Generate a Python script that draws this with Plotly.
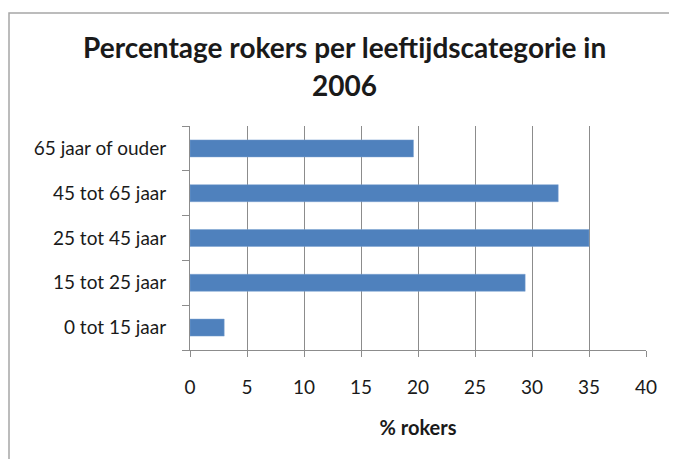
import plotly.graph_objects as go

categories = ["0 tot 15 jaar", "15 tot 25 jaar", "25 tot 45 jaar", "45 tot 65 jaar", "65 jaar of ouder"]
rokers_pct = [3.0, 29.4, 35.0, 32.3, 19.6]
x_ticks = [0, 5, 10, 15, 20, 25, 30, 35, 40]

FONT = "Lato"
GRID = "#8c8c8c"

# page has an 8px body margin, so the figure is a bit smaller than the window
W, H = 669, 451
PL, PR, PT, PB = 190, 646, 126, 350   # plot area in page pixels


def px_x(x):
    return (x - PL) / (PR - PL)


def px_y(y):
    return (PB - y) / (PB - PT)


fig = go.Figure(go.Bar(
    x=rokers_pct, y=categories, orientation="h",
    marker=dict(color="#4f81bd", line=dict(color="#7aa0d0", width=0.5)),
))

fig.update_layout(
    width=W, height=H,
    margin=dict(l=PL - 8, r=W - (PR - 8), t=PT - 8, b=H - (PB - 8)),
    paper_bgcolor="white", plot_bgcolor="white",
    bargap=0.62, showlegend=False,
    font=dict(family=FONT, size=19, color="#1a1a1a"),
)

fig.update_xaxes(
    range=[0, 40], tickvals=x_ticks, showgrid=True, gridcolor=GRID, gridwidth=1,
    showline=True, linecolor=GRID, linewidth=1, ticks="outside", ticklen=6,
    tickcolor=GRID, zeroline=False, ticklabelstandoff=14,
    title=dict(text="<b>% rokers</b>", font=dict(size=20), standoff=24),
)
fig.update_yaxes(
    categoryorder="array", categoryarray=categories, showgrid=False,
    showline=True, linecolor=GRID, linewidth=1, ticks="outside", ticklen=7,
    tickcolor=GRID, tickson="boundaries", ticklabelstandoff=19,
)

# title in two lines, like the Excel chart
fig.add_annotation(text="<b>Percentage rokers per leeftijdscategorie in</b>", xref="paper", yref="paper",
                   x=px_x(344), y=px_y(47), xanchor="center", yanchor="middle",
                   showarrow=False, font=dict(size=28))
fig.add_annotation(text="<b>2006</b>", xref="paper", yref="paper",
                   x=px_x(344), y=px_y(85), xanchor="center", yanchor="middle",
                   showarrow=False, font=dict(size=28))

# chart-area border
fig.add_shape(type="rect", xref="paper", yref="paper", x0=px_x(9), x1=px_x(690), y0=px_y(470), y1=px_y(13),
              line=dict(color="#a6a6a6", width=1.5), layer="below")

fig.write_html("out.html")
